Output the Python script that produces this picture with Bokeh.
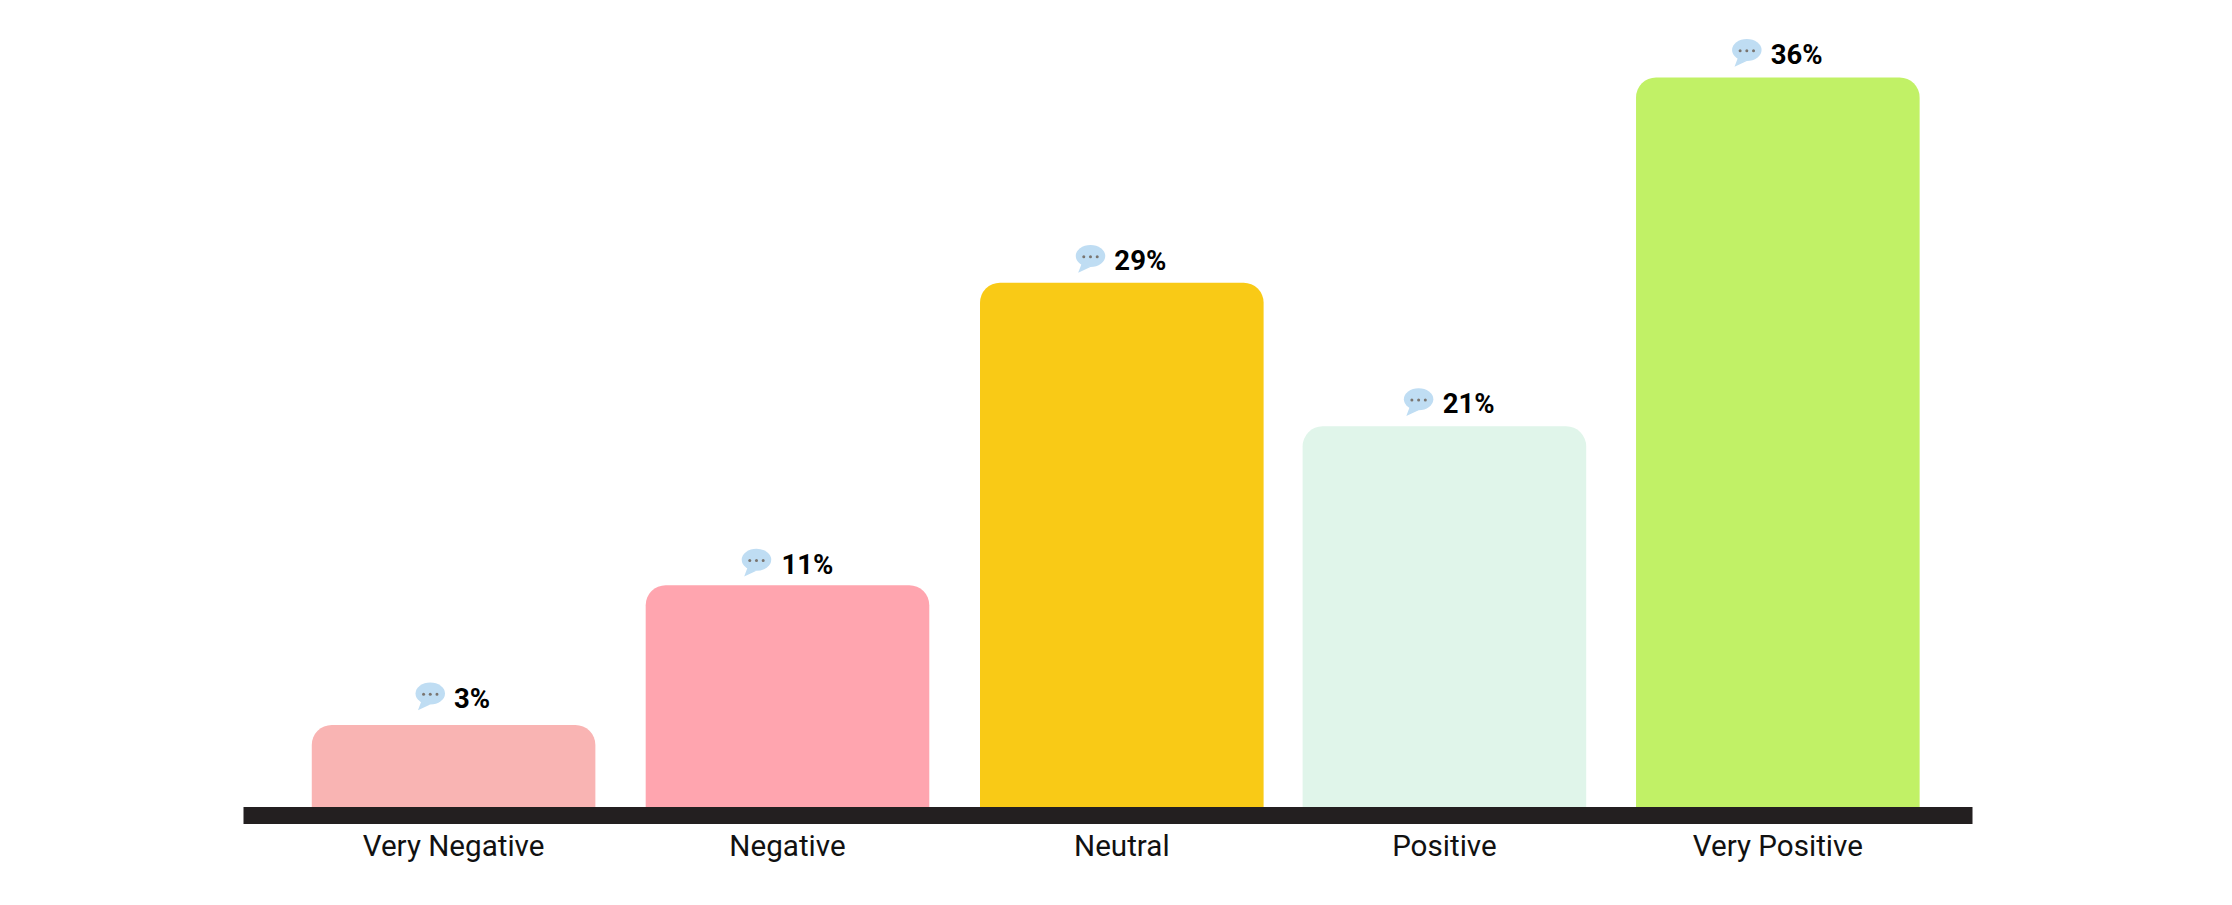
from bokeh.embed import file_html
from bokeh.resources import INLINE
from bokeh.plotting import figure
from bokeh.models import Range1d, FixedTicker
from bokeh.core.properties import value

# --- data ---
categories = ["Very Negative", "Negative", "Neutral", "Positive", "Very Positive"]
labels = ["3%", "11%", "29%", "21%", "36%"]
bar_heights = [4.06, 10.95, 25.87, 18.79, 36.0]   # drawn heights (differ from printed labels)

# --- layout and style ---
colors = ["#F9B4B3", "#FFA5AF", "#F9CA16", "#E0F5EA", "#C1F166"]
centers = [453.3, 787.1, 1121.3, 1443.8, 1777.1]
bar_width = 283.5
text_dx = [18.5, 19.9, 18.5, 24.2, 18.9]
bubble_dx = [-23.3, -31.0, -31.3, -25.8, -31.0]
text_gap = [17.7, 11.7, 13.0, 13.3, 13.7]
TEXT_FIX = 9.0
K = 20.28  # px per unit
FONT = "Roboto"

W, H = 2216, 889
F_L, F_R, F_B = 243.3, 1971.7, 815.3

p = figure(width=W, height=H, output_backend="svg", toolbar_location=None,
           x_range=Range1d(F_L, F_R),
           y_range=Range1d(-(F_B - 807) / K, 807 / K),
           min_border_left=round(F_L), min_border_right=round(W - F_R),
           min_border_top=0, min_border_bottom=round(H - F_B),
           outline_line_color=None, background_fill_color="white", border_fill_color="white")
p.grid.visible = False
p.yaxis.visible = False

p.vbar(x=centers, top=bar_heights, bottom=0, width=bar_width, color=colors, line_color=None,
       border_radius=(20, 20, 0, 0))

# value labels
ty = [h + g / K for h, g in zip(bar_heights, text_gap)]
p.text(x=[c + d for c, d in zip(centers, text_dx)], y=[t + TEXT_FIX / K for t in ty], text=labels,
       text_font=value(FONT), text_font_style="bold", text_font_size="27.5px", text_color="#000000",
       text_align="center", text_baseline="alphabetic")

# speech bubbles
bx = [c + d for c, d in zip(centers, bubble_dx)]
by = [t + 13.7 / K for t in ty]
p.patches(xs=[[x - 12.3, x - 9, x] for x in bx],
          ys=[[y - 16.7 / K, y - 8 / K, y - 11 / K] for y in by],
          color="#BFDDF3", line_color=None)
p.ellipse(x=bx, y=by, width=29.5, height=22 / K, color="#BFDDF3", line_color=None)
for off in (-6.7, 0, 6.7):
    p.scatter(x=[x + off for x in bx], y=[y - 0.7 / K for y in by], size=3,
              color="#7A7570", line_color=None)

ax = p.xaxis[0]
ax.ticker = FixedTicker(ticks=centers)
ax.major_label_overrides = {c: n for c, n in zip(centers, categories)}
ax.axis_line_color = "#231F20"
ax.axis_line_width = 17
ax.major_tick_line_color = None
ax.minor_tick_line_color = None
ax.major_label_text_font = FONT
ax.major_label_text_font_size = "29.6px"
ax.major_label_text_color = "#111111"
ax.major_label_standoff = 7

open("out.html", "w").write(file_html(p, INLINE))
